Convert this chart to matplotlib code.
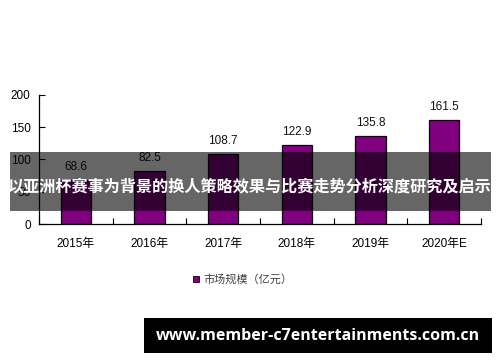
import matplotlib
matplotlib.use("Agg")
import matplotlib.pyplot as plt
from matplotlib.patches import Rectangle

categories = ["2015年", "2016年", "2017年", "2018年", "2019年", "2020年E"]
values = [68.6, 82.5, 108.7, 122.9, 135.8, 161.5]
value_labels = ["68.6", "82.5", "108.7", "122.9", "135.8", "161.5"]
yticks = [0, 50, 100, 150, 200]
legend_label = "市场规模（亿元）"
banner_text = "以亚洲杯赛事为背景的换人策略效果与比赛走势分析深度研究及启示"
footer_text = "www.member-c7entertainments.com.cn"

fam = ["Liberation Sans", "Noto Sans CJK SC"]
plt.rcParams["font.family"] = fam

fig = plt.figure(figsize=(5, 3.62), dpi=100)
ax = fig.add_axes([0.078, 0.381, 0.884, 0.357])

x = list(range(len(categories)))
bars = ax.bar(x, values, width=0.41, color="#800080", edgecolor="black", linewidth=0.9, zorder=2)
for xi, v, lab in zip(x, values, value_labels):
    ax.annotate(lab, (xi, v), xytext=(0, 5), textcoords="offset points",
                ha="center", va="bottom", fontsize=8.5, color="#111111")

ax.set_xlim(-0.5, len(categories) - 0.5)
ax.set_ylim(0, 200)
ax.set_yticks(yticks)
ax.set_yticklabels([str(t) for t in yticks], fontsize=8.5)
ax.set_xticks(x)
ax.set_xticklabels(categories, fontsize=8.5)
ax.tick_params(axis="x", length=0, pad=10)
ax.set_xticks([i + 0.5 for i in range(-1, len(categories))], minor=True)
ax.tick_params(axis="x", which="minor", direction="in", length=4, width=0.8)
ax.tick_params(axis="y", direction="in", length=4, width=0.8, pad=6)
for s in ["top", "right"]:
    ax.spines[s].set_visible(False)
ax.spines["left"].set_linewidth(0.9)
ax.spines["bottom"].set_linewidth(0.9)

# legend
fig.patches.append(Rectangle((193 / 500, 1 - 282 / 362), 6 / 500, 6 / 362,
                             transform=fig.transFigure, facecolor="#800080",
                             edgecolor="black", linewidth=0.6))
fig.text(203 / 500, 1 - 279 / 362, legend_label, fontsize=8, color="#404040",
         va="center", ha="left")

# banner overlay
fig.patches.append(Rectangle((10 / 500, 1 - 211 / 362), 481 / 500, 59 / 362,
                             transform=fig.transFigure, facecolor="black",
                             alpha=0.6, edgecolor="none", zorder=10))
fig.text(250 / 500, 1 - 186 / 362, banner_text, fontsize=11.6, color="white",
         fontweight="bold", ha="center", va="center", zorder=11,
         family=["Noto Sans CJK SC", "DejaVu Sans"])

# footer box
fig.patches.append(Rectangle((144 / 500, 1 - 353 / 362), 348 / 500, 35 / 362,
                             transform=fig.transFigure, facecolor="black",
                             edgecolor="none", zorder=10))
fig.text(318 / 500, 1 - 336 / 362, footer_text, fontsize=11.5, color="white",
         fontweight="bold", ha="center", va="center", zorder=11,
         family=["Open Sans", "DejaVu Sans"])

fig.savefig("out.png", dpi=100)
